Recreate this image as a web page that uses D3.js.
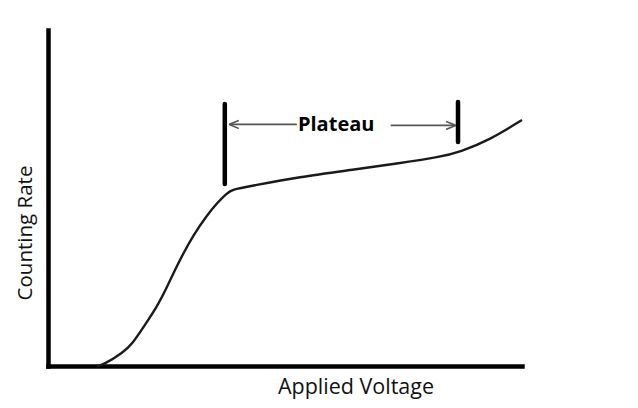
<!DOCTYPE html>
<html>
<head>
<meta charset="utf-8">
<script src="https://cdn.jsdelivr.net/npm/d3@7"></script>
<style>
  html, body { margin: 0; padding: 0; background: #fff; }
  svg { display: block; }
</style>
</head>
<body>
<svg id="chart" width="638" height="408"></svg>
<script>
// Applied voltage (arbitrary units, 0-100) and counting rate (arbitrary units, 0-100)
const voltage = [10.3, 11.6, 15.8, 17.9, 20.0, 23.0, 25.1, 26.8, 28.5, 30.6, 33.5, 35.7, 37.8, 38.8, 42.6, 53.2, 63.7, 74.3, 82.7, 86.9, 93.2, 100];
const countRate = [0, 0.3, 3.9, 6.8, 11.3, 17.6, 23.5, 28.6, 33.4, 38.8, 44.8, 48.6, 51.5, 52.5, 53.5, 56.3, 58.3, 60.4, 62.2, 63.7, 67.3, 73.2];

// Plateau markers: start and end voltage, bar extents in count units
const plateauVoltage = [37.3, 86.5];
const plateauBarLow = [54.2, 66.7];
const plateauBarHigh = [78.0, 78.6];
const plateauArrowLevel = 71.9;
const plateauLabel = "Plateau";

const xLabel = "Applied Voltage";
const yLabel = "Counting Rate";

const svg = d3.select("#chart");
const x = d3.scaleLinear().domain([0, 100]).range([48, 522]);
const y = d3.scaleLinear().domain([0, 100]).range([366, 30]);

// Axes (plain thick lines, no ticks)
const xAxis = d3.axisBottom(x).tickValues([]).tickSizeOuter(0);
const yAxis = d3.axisLeft(y).tickValues([]).tickSizeOuter(0);
const gx = svg.append("g").attr("transform", `translate(0,${y(0)})`).call(xAxis);
const gy = svg.append("g").attr("transform", `translate(${x(0)},0)`).call(yAxis);
[gx, gy].forEach(g => g.select(".domain").attr("stroke", "#000").attr("stroke-width", 4.5).attr("stroke-linecap", "square"));

// Curve
const data = voltage.map((v, i) => ({ v, c: countRate[i] }));
const line = d3.line().x(d => x(d.v)).y(d => y(d.c)).curve(d3.curveBasis);
svg.append("path").datum(data)
  .attr("d", line)
  .attr("fill", "none")
  .attr("stroke", "#1a1a1a")
  .attr("stroke-width", 2.4);

// Arrow marker
const defs = svg.append("defs");
defs.append("marker")
  .attr("id", "arrow")
  .attr("viewBox", "0 0 10 10")
  .attr("refX", 9).attr("refY", 5)
  .attr("markerWidth", 10).attr("markerHeight", 10)
  .attr("markerUnits", "userSpaceOnUse")
  .attr("orient", "auto")
  .append("path")
  .attr("d", "M0,1 L10,5 L0,9")
  .attr("fill", "none")
  .attr("stroke", "#555")
  .attr("stroke-width", 1.6);

// Plateau bars
plateauVoltage.forEach((v, i) => {
  svg.append("line")
    .attr("x1", x(v)).attr("x2", x(v))
    .attr("y1", y(plateauBarLow[i])).attr("y2", y(plateauBarHigh[i]))
    .attr("stroke", "#000").attr("stroke-width", 4.5).attr("stroke-linecap", "round");
});

// Plateau label
svg.append("text")
  .attr("x", x(60.8)).attr("y", y(plateauArrowLevel) + 7)
  .attr("text-anchor", "middle")
  .attr("font-family", "'Open Sans', sans-serif")
  .attr("font-weight", "bold")
  .attr("font-size", 20)
  .attr("fill", "#000")
  .text(plateauLabel);

// Arrows
svg.append("line")
  .attr("x1", x(52.5)).attr("x2", x(plateauVoltage[0]) + 5)
  .attr("y1", y(plateauArrowLevel)).attr("y2", y(plateauArrowLevel))
  .attr("stroke", "#555").attr("stroke-width", 1.6)
  .attr("marker-end", "url(#arrow)");
svg.append("line")
  .attr("x1", x(72.3)).attr("x2", x(plateauVoltage[1]) - 3)
  .attr("y1", y(plateauArrowLevel) + 1).attr("y2", y(plateauArrowLevel) + 1)
  .attr("stroke", "#555").attr("stroke-width", 1.6)
  .attr("marker-end", "url(#arrow)");

// Axis labels
svg.append("text")
  .attr("x", 356).attr("y", 394)
  .attr("text-anchor", "middle")
  .attr("font-family", "'Open Sans', sans-serif")
  .attr("font-size", 21.5)
  .attr("fill", "#111")
  .text(xLabel);
svg.append("text")
  .attr("transform", "translate(32,233) rotate(-90)")
  .attr("text-anchor", "middle")
  .attr("font-family", "'Open Sans', sans-serif")
  .attr("font-size", 20.5)
  .attr("fill", "#111")
  .text(yLabel);
</script>
</body>
</html>
